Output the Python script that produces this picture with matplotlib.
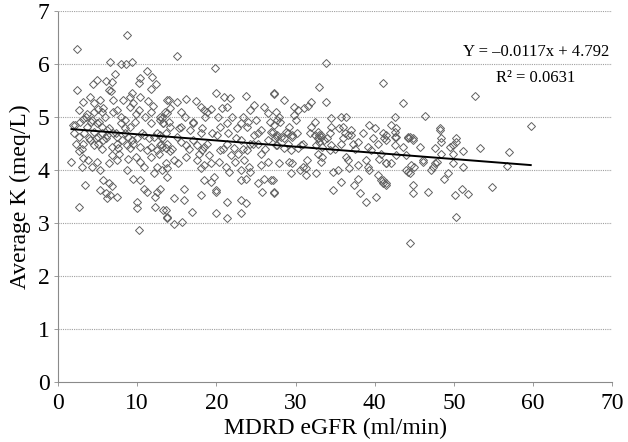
import matplotlib
matplotlib.use("Agg")
import matplotlib.pyplot as plt
import numpy as np

# MDRD eGFR (ml/min) and average K (meq/L)
egfr = [
 2.4, 8.7, 6.6, 7.9, 8.6, 9.4, 2.45, 11.2, 11.9, 10.3, 10.2, 12.4, 11.8, 7.2, 6.8, 6.0, 4.9, 4.4,
 6.4, 6.7, 8.2, 9.3, 9.1, 10.4, 11.4, 14.0, 3.2, 2.7, 4.1, 5.3, 4.5, 5.1, 5.7, 5.5, 7.0, 2.15,
 3.1, 3.6, 7.4, 7.9, 8.5, 9.1, 9.5, 9.9, 10.2, 11.7, 12.9, 13.3, 11.7, 9.1, 5.5, 6.2, 4.9, 4.3,
 3.6, 1.9,
 2.7, 3.2, 2.7, 4.1, 4.5, 5.1, 5.7, 5.1, 6.8, 7.4, 7.6, 8.1, 8.7, 9.1, 9.5, 10.0, 10.4, 11.2,
 11.7, 12.5, 12.9, 13.6, 1.7, 3.2, 3.8, 4.3, 4.9, 5.3, 3.0, 6.4, 6.8, 7.4, 8.7, 9.8, 10.4, 10.8,
 11.7, 12.5, 13.1, 13.6, 12.1, 3.4, 5.7, 6.4, 6.8, 5.3, 6.0, 6.6, 7.4, 6.2, 9.5, 10.4, 10.8, 11.2,
 12.5, 12.9, 12.3, 2.6, 10.0, 10.0, 12.3, 13.6, 13.8, 10.2, 5.5, 6.2, 8.9, 9.3, 8.5, 10.8, 12.1,
 12.5, 13.1, 7.4, 7.0, 4.5,
 15.0, 19.8, 19.9, 20.9, 21.7, 21.3, 20.7, 23.7, 24.7, 27.3, 13.8, 15.0, 16.1, 14.2, 15.5, 13.8,
 13.1, 18.0, 18.4, 19.3, 18.6, 23.3, 24.3, 23.1, 22.6, 23.9, 25.0, 26.0, 26.5, 27.7, 25.6, 26.9,
 27.7, 21.4, 20.5, 17.1, 16.7, 15.5, 14.2, 13.6, 18.0, 20.1, 24.8, 12.9, 13.3, 14.0,
 13.1, 14.2, 16.1, 14.6, 15.2, 16.1, 13.8, 13.8, 17.6, 18.4, 18.0, 19.3, 20.3, 21.2, 21.6, 22.4,
 23.1, 23.5, 24.1, 24.3, 25.6, 26.5, 26.0, 25.2, 26.9, 23.7, 23.1, 19.7, 19.3, 18.4, 19.9, 15.9,
 14.6, 15.9, 18.0, 19.9, 21.4, 23.1, 23.7, 25.8, 27.3, 13.3, 13.8, 14.6, 15.7, 16.9, 19.9, 21.4,
 23.1, 15.0, 17.1, 18.4, 22.2, 23.9, 24.3, 26.5, 27.5, 12.9, 21.4, 21.8, 20.5, 17.6, 18.2, 18.8,
 17.8, 19.1, 15.5, 13.8, 22.7, 23.1, 25.2, 25.6,
 33.8, 41.0, 33.0, 27.3, 28.5, 33.8, 31.9, 31.1, 31.6, 29.8, 30.3, 27.5, 27.9, 27.3, 29.8, 30.0,
 29.2, 28.8, 29.6, 32.4, 31.9, 34.5, 35.7, 36.4, 36.0, 37.0, 35.5, 34.5, 39.3, 40.0, 41.4, 33.0,
 32.8, 33.2, 36.6, 27.7, 28.6,
 27.1, 28.1, 29.0, 29.6, 30.7, 27.7, 28.6, 29.4, 30.3, 27.9, 29.2, 29.6, 30.5, 30.9, 31.3, 31.5,
 32.8, 33.2, 33.4, 34.3, 34.7, 35.3, 36.6, 36.8, 36.4, 37.2, 37.9, 35.7, 34.5, 34.3, 36.2, 37.0,
 39.1, 40.4, 41.2, 39.5, 40.8, 38.9, 39.1, 39.3, 37.9, 41.4, 27.1, 27.3, 29.4, 31.3, 32.6, 35.8,
 34.7, 37.4, 37.9, 38.1, 38.9, 40.2, 40.8, 41.0, 41.4, 40.4, 32.4, 32.8, 33.0, 33.2, 32.6, 33.4,
 33.6, 32.8,
 43.6, 52.6, 42.6, 46.4, 42.1, 42.7, 48.2, 42.5, 44.4, 44.8, 48.4, 50.3,
 41.4, 42.5, 42.7, 42.5, 43.6, 44.2, 44.8, 44.2, 45.7, 44.0, 42.7, 41.4, 42.1, 44.6, 45.0, 44.4,
 44.2, 44.0, 46.1, 46.1, 47.1, 47.6, 47.8, 47.4, 47.6, 48.4, 48.4, 48.2, 49.5, 49.9, 50.3, 49.9,
 49.9, 51.2, 51.2, 53.3, 49.3, 48.8, 41.0, 41.4, 44.8, 44.8, 46.7, 50.1, 51.0, 51.8, 54.8, 50.3,
 44.5, 41.0,
 59.7, 57.0, 56.7,
 2.0, 2.3, 2.8, 3.0, 3.3, 3.5, 3.9, 4.2, 4.6, 4.8, 5.2, 5.6, 5.9, 6.1, 6.5, 6.9, 7.3, 7.7, 8.0, 8.4,
 8.8, 9.7, 10.6, 11.0, 11.5, 12.0, 12.7, 13.0, 13.5, 14.4,
 15.3, 16.0, 16.5, 17.0, 17.4, 18.2, 18.8, 19.5, 20.2, 20.8, 21.5, 22.0, 22.5, 23.4, 24.0, 24.6,
 25.3, 26.2, 26.8, 27.4,
 28.0, 29.0, 30.2, 31.0, 31.8, 34.0, 35.0, 36.0, 37.5, 38.5, 39.8, 40.5,
]
avg_k = [
 6.28, 6.55, 6.03, 6.01, 6.01, 6.03, 5.51, 5.87, 5.75, 5.73, 5.64, 5.62, 5.52, 5.81, 5.67, 5.68, 5.70, 5.62,
 5.51, 5.50, 5.33, 5.46, 5.38, 5.38, 5.30, 5.32, 5.29, 5.13, 5.37, 5.32, 5.26, 5.16, 5.18, 5.10, 5.32, 4.85,
 4.96, 5.06, 5.13, 4.88, 4.94, 5.19, 5.26, 5.05, 5.13, 5.10, 5.01, 4.88, 4.88, 4.82, 4.82, 4.75, 4.88, 4.94,
 4.82, 4.85,
 4.63, 4.50, 4.35, 4.57, 4.47, 4.63, 4.57, 4.50, 4.44, 4.50, 4.41, 4.57, 4.47, 4.41, 4.50, 4.60, 4.44, 4.38,
 4.44, 4.38, 4.47, 4.41, 4.16, 4.22, 4.19, 4.06, 4.16, 4.00, 4.06, 4.13, 4.28, 4.19, 4.01, 4.25, 4.16, 4.06,
 4.25, 4.06, 4.00, 4.13, 3.94, 3.72, 3.81, 3.75, 3.69, 3.62, 3.56, 3.53, 3.50, 3.47, 3.84, 3.81, 3.65, 3.59,
 3.59, 3.65, 3.50, 3.30, 3.40, 3.28, 3.31, 3.25, 3.11, 2.87, 4.69, 4.66, 4.63, 4.57, 4.69, 4.66, 4.63,
 4.69, 4.60, 4.63, 4.69, 4.72,
 6.15, 5.93, 5.46, 5.37, 5.35, 5.19, 5.18, 5.40, 5.23, 5.45, 5.32, 5.29, 5.34, 5.18, 5.10, 5.07,
 4.98, 5.19, 5.13, 5.16, 5.01, 5.01, 5.13, 4.88, 4.79, 4.82, 4.94, 5.19, 5.07, 4.94, 4.75, 4.72,
 4.63, 4.88, 4.82, 4.88, 4.75, 4.82, 4.82, 4.69, 4.69, 4.66, 4.66, 4.94, 4.88, 4.91,
 4.44, 4.35, 4.47, 4.19, 4.13, 4.25, 4.03, 3.87, 4.19, 4.09, 4.03, 4.13, 4.16, 4.06, 3.97, 4.16,
 4.00, 4.19, 4.06, 3.97, 4.09, 4.16, 3.84, 3.75, 3.81, 3.84, 3.81, 3.87, 3.78, 3.81, 3.62, 3.65,
 3.47, 3.43, 3.53, 3.59, 3.40, 3.43, 3.38, 3.59, 3.56, 3.25, 3.09, 2.99, 3.02, 3.21, 3.18, 3.09,
 3.18, 4.63, 4.57, 4.44, 4.41, 4.38, 4.50, 4.57, 4.47, 4.66, 4.50, 4.28, 4.38, 4.47, 4.38, 4.50,
 4.31, 4.28, 4.53, 4.50, 4.31, 4.57, 4.50, 4.31,
 6.02, 5.65, 5.57, 5.43, 5.32, 5.28, 5.29, 5.18, 5.21, 5.19, 5.13, 5.10, 5.01, 4.85, 5.04, 4.94,
 4.82, 4.72, 4.66, 4.91, 4.82, 4.98, 5.01, 5.01, 4.82, 4.75, 4.79, 4.82, 4.85, 4.79, 4.66, 4.66,
 4.60, 4.63, 4.66, 4.66, 4.60,
 4.72, 4.63, 4.69, 4.63, 4.47, 4.47, 4.41, 4.38, 4.41, 4.13, 4.16, 4.13, 4.00, 4.06, 4.03, 4.19,
 4.31, 4.16, 4.25, 4.38, 3.97, 4.00, 4.19, 4.03, 4.25, 4.50, 4.53, 4.50, 4.47, 4.69, 4.69, 4.66,
 4.44, 4.50, 4.60, 4.38, 4.31, 4.19, 4.06, 4.00, 4.09, 4.13, 3.81, 3.59, 3.94, 3.91, 3.94, 3.78,
 3.62, 3.72, 3.84, 3.56, 3.40, 3.50, 3.81, 3.75, 3.72, 3.91, 4.66, 4.60, 4.53, 4.66, 4.47, 4.44,
 4.57, 4.72,
 5.26, 5.40, 5.01, 5.02, 4.85, 4.79, 4.79, 4.63, 4.63, 4.60, 4.60, 4.60,
 4.57, 4.47, 4.63, 4.72, 4.44, 4.60, 4.57, 4.63, 4.44, 4.28, 4.28, 4.13, 4.13, 4.09, 4.06, 3.94,
 3.97, 4.00, 4.16, 4.19, 4.00, 4.13, 4.16, 4.06, 4.41, 4.53, 4.31, 4.75, 4.44, 4.47, 4.53, 4.31,
 4.13, 4.35, 4.06, 4.41, 3.94, 3.84, 3.81, 3.75, 3.72, 3.56, 3.59, 3.53, 3.64, 3.55, 3.68, 3.11,
 2.62, 4.69,
 4.83, 4.34, 4.08,
 4.70, 4.50, 4.90, 4.40, 4.70, 5.00, 4.60, 4.90, 5.10, 4.60, 4.90, 4.40, 5.00, 4.60, 4.80, 5.10, 4.70, 4.30, 5.00, 4.80,
 4.20, 4.90, 4.70, 5.00, 4.60, 5.20, 4.30, 4.50, 5.10, 4.40,
 4.80, 5.00, 4.40, 4.90, 5.30, 4.80, 5.10, 4.70, 5.00, 4.40, 4.70, 5.00, 4.60, 4.40, 4.90, 4.50,
 4.70, 4.40, 4.90, 4.60,
 4.90, 4.50, 4.70, 4.50, 4.70, 4.60, 4.40, 4.60, 4.40, 4.70, 4.60, 4.20,
]

# trendline stated on the chart
slope = -0.0117
intercept = 4.792
eq_text = "Y = \u20130.0117x + 4.792"
r2_text = "R\u00b2 = 0.0631"

x_ticks = [0, 10, 20, 30, 40, 50, 60, 70]
y_ticks = [0, 1, 2, 3, 4, 5, 6, 7]

plt.rcParams['font.family'] = ['Liberation Serif', 'DejaVu Serif']

fig = plt.figure(figsize=(6.28, 4.42), dpi=100)
ax = fig.add_axes([0.0924, 0.1357, 0.8826, 0.8393])

ax.set_xlim(0, 70)
ax.set_ylim(0, 7)
ax.set_xticks(x_ticks)
ax.set_yticks(y_ticks)

for yv in y_ticks[1:]:
    ax.axhline(yv, color='#a0a0a0', lw=0.8, ls=(0, (1, 1)), zorder=0)

ax.plot(egfr, avg_k, ls='none', marker='D', ms=3.8, mfc='none',
        mec='#606060', mew=0.7, zorder=2)

xs = np.array([min(egfr), max(egfr)])
ax.plot(xs, intercept + slope * xs, color='black', lw=1.4, zorder=3)

for s in ['top', 'right']:
    ax.spines[s].set_visible(False)
ax.spines['left'].set_color('#8a8a8a')
ax.spines['left'].set_linestyle((0, (1, 1)))
ax.spines['left'].set_linewidth(0.8)
ax.spines['bottom'].set_color('#8a8a8a')
ax.spines['bottom'].set_linewidth(0.8)

ax.tick_params(axis='both', direction='out', length=3, width=0.6,
               color='#8a8a8a', labelsize=17)
ax.tick_params(axis='x', pad=5)
ax.tick_params(axis='y', pad=3)

ax.set_xlabel("MDRD eGFR (ml/min)", fontsize=17, labelpad=3)
ax.set_ylabel("Average K (meq/L)", fontsize=17, labelpad=5)

ax.text(0.862, 0.878, eq_text, transform=ax.transAxes, fontsize=12,
        ha='center', va='baseline')
ax.text(0.862, 0.808, r2_text, transform=ax.transAxes, fontsize=12,
        ha='center', va='baseline')

fig.savefig("out.png", dpi=100)
